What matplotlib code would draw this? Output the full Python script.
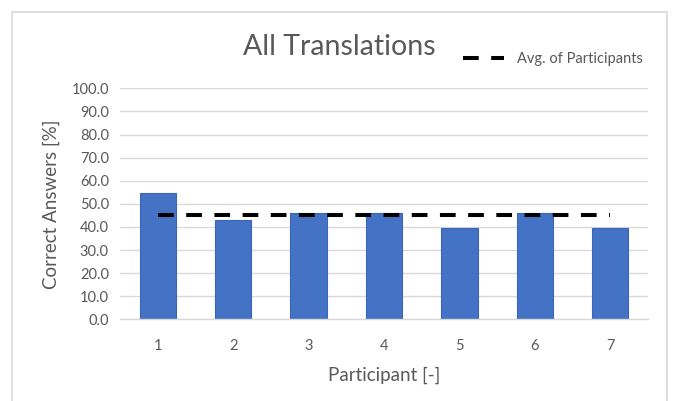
import matplotlib.pyplot as plt
from matplotlib.patches import Rectangle

participants = ['1', '2', '3', '4', '5', '6', '7']
correct = [54.8, 43.2, 46.1, 46.1, 39.5, 46.1, 39.5]
avg_value = 45.1
yticks = [0, 10, 20, 30, 40, 50, 60, 70, 80, 90, 100]

plt.rcParams['font.family'] = ['Lato', 'DejaVu Sans']
grey = '#595959'

fig = plt.figure(figsize=(6.73, 4.01), dpi=100)
fig.patches.append(Rectangle((12 / 673, -0.1), 655 / 673, 1.1 - 12 / 401,
                             transform=fig.transFigure, fill=False,
                             edgecolor='#d9d9d9', linewidth=1.2))

ax = fig.add_axes([120 / 673, 1 - 319.3 / 401, 528 / 673, (319.3 - 88.3) / 401])
x = list(range(len(participants)))
ax.bar(x, correct, width=0.48, color='#4472C4', edgecolor='#3b66b8', linewidth=0.8, zorder=2)
ax.plot([x[0], x[-1]], [avg_value, avg_value], color='black', linewidth=2.9,
        dashes=(3.9, 3.1), zorder=3, label='Avg. of Participants')

ax.set_xlim(-0.5, len(participants) - 0.5)
ax.set_ylim(0, 100)
ax.set_yticks(yticks)
ax.set_yticklabels([f'{v:.1f}' for v in yticks])
ax.set_xticks(x)
ax.set_xticklabels(participants)
ax.grid(axis='y', color='#d9d9d9', linewidth=1, zorder=0)
ax.set_axisbelow(True)
for s in ['top', 'right', 'left']:
    ax.spines[s].set_visible(False)
ax.spines['bottom'].set_color('#d9d9d9')
ax.spines['bottom'].set_linewidth(1)
ax.tick_params(axis='both', length=0, labelsize=10.5, colors=grey, pad=8)
ax.tick_params(axis='x', pad=14)

ax.set_xlabel('Participant [-]', fontsize=13.5, color=grey, labelpad=10)
ax.set_ylabel('Correct Answers [%]', fontsize=13.5, color=grey, labelpad=8)

fig.text(339 / 673, 1 - 47 / 401, 'All Translations', fontsize=20.5, color=grey,
         ha='center', va='center')
fig.legend(loc='center', bbox_to_anchor=(553 / 673, 1 - 59 / 401), frameon=False,
           fontsize=10.5, labelcolor=grey, handlelength=2.8, handletextpad=0.9)

fig.savefig('out.png', dpi=100)
